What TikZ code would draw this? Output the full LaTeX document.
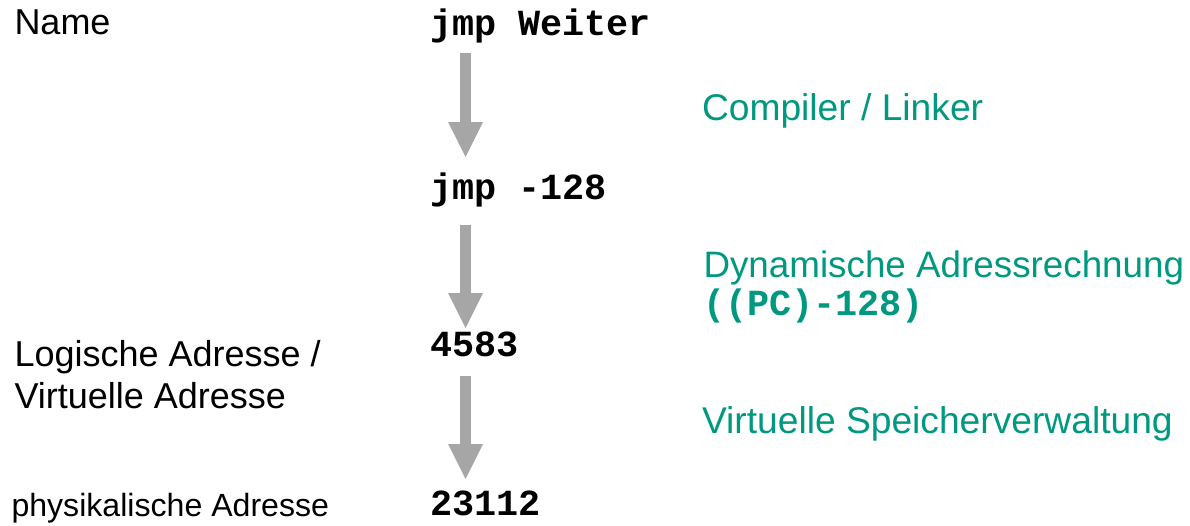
\documentclass[tikz,border=0pt]{standalone}
\usepackage{fontspec}
\setmainfont{Liberation Sans}
\setmonofont{Liberation Mono}
\usetikzlibrary{arrows.meta}
\definecolor{labelgreen}{RGB}{0,153,128}
\definecolor{arrowgray}{RGB}{166,166,166}
\tikzset{
  lbl/.style={anchor=base west, inner sep=0pt, outer sep=0pt, font=\fontsize{36}{41.5}\selectfont, align=left},
  code/.style={anchor=base west, inner sep=0pt, outer sep=0pt, font=\fontsize{36.8}{41.5}\selectfont\ttfamily\bfseries},
  stepnote/.style={lbl, font=\fontsize{37.2}{42}\selectfont, text=labelgreen},
  bigarrow/.style={draw=arrowgray, line width=11pt, -{Triangle[width=35pt,length=35pt,line width=0pt,fill=arrowgray]}}
}
\begin{document}
\begin{tikzpicture}[x=1pt,y=-1pt]
\useasboundingbox (0,0) rectangle (1190,525);
% left column
\node[lbl] (name) at (14.5,34.3) {Name};
\node[lbl] (logl1) at (14.5,366.7) {Logische Adresse /};
\node[lbl] (logl2) at (14.5,408) {Virtuelle Adresse};
\node[lbl, font=\fontsize{32.1}{38}\selectfont] (phys) at (11.5,516.7) {physikalische Adresse};
% code column
\node[code] (c1) at (430,35) {jmp Weiter};
\node[code] (c2) at (430,199) {jmp -128};
\node[code] (c3) at (430,356.7) {4583};
\node[code] (c4) at (430,515) {23112};
% step labels
\node[stepnote] (s1) at (702,120) {Compiler / Linker};
\node[stepnote, font=\fontsize{36.8}{42}\selectfont] (s2) at (703.5,277) {Dynamische Adressrechnung};
\node[code, text=labelgreen] (s2b) at (703,315) {((PC)-128)};
\node[stepnote] (s3) at (702,433) {Virtuelle Speicherverwaltung};
% arrows
\draw[bigarrow] ([xshift=35.5pt,yshift=-18pt]c1.base west) -- ([xshift=35.5pt,yshift=42pt]c2.base west);
\draw[bigarrow] ([xshift=35.5pt,yshift=-26pt]c2.base west) -- ([xshift=35.5pt,yshift=28.7pt]c3.base west);
\draw[bigarrow] ([xshift=35.5pt,yshift=-19.3pt]c3.base west) -- ([xshift=35.5pt,yshift=36pt]c4.base west);
\end{tikzpicture}
\end{document}
